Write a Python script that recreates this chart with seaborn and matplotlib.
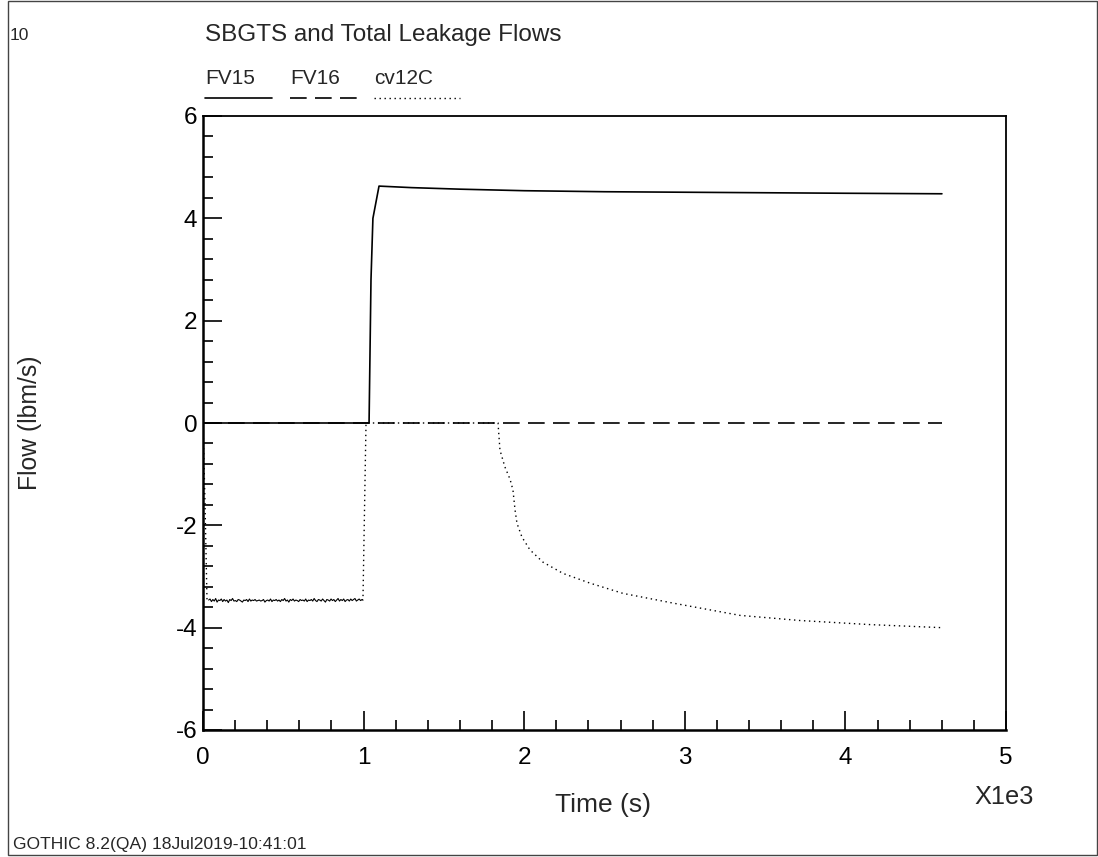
import numpy as np
import pandas as pd
import matplotlib
matplotlib.use("Agg")
import matplotlib.pyplot as plt
from matplotlib.lines import Line2D
from matplotlib.patches import Rectangle
from matplotlib.ticker import MultipleLocator, FuncFormatter
import seaborn as sns

# ---------------- data ----------------
title = "SBGTS and Total Leakage Flows"
series_names = ["FV15", "FV16", "cv12C"]

fv15_t = [0, 1034, 1046, 1058, 1096, 1300, 1600, 2000, 2500, 3000, 3500, 4000, 4601]
fv15_v = [0.0, 0.0, 2.8, 4.0, 4.63, 4.60, 4.57, 4.54, 4.52, 4.51, 4.50, 4.49, 4.48]

fv16_t = [0, 4601]
fv16_v = [0.0, 0.0]

cv12c_start_t = [0, 12, 25]
cv12c_start_v = [0.0, -1.5, -3.47]
cv12c_noise_v = [-3.46, -3.44, -3.49, -3.45, -3.48, -3.43, -3.50, -3.46, -3.47, -3.44,
                 -3.49, -3.45, -3.48, -3.46, -3.51, -3.45, -3.47, -3.43, -3.48, -3.47,
                 -3.49, -3.45, -3.46, -3.48, -3.50, -3.46, -3.47, -3.45, -3.49, -3.44,
                 -3.48, -3.46, -3.47, -3.45, -3.48, -3.47, -3.46, -3.48, -3.47, -3.45,
                 -3.50, -3.47, -3.46, -3.48, -3.44, -3.49, -3.46, -3.47, -3.45, -3.48,
                 -3.46, -3.49, -3.45, -3.47, -3.43, -3.48, -3.46, -3.50, -3.45, -3.47,
                 -3.44, -3.48, -3.46, -3.47, -3.49, -3.45, -3.47, -3.46, -3.48, -3.44,
                 -3.49, -3.46, -3.47, -3.45, -3.48, -3.43, -3.47, -3.49, -3.45, -3.46,
                 -3.48, -3.44, -3.47, -3.50, -3.45, -3.46, -3.48, -3.44, -3.47, -3.45,
                 -3.49, -3.46, -3.43, -3.48, -3.45, -3.47, -3.44, -3.49, -3.46, -3.45,
                 -3.48, -3.44, -3.47, -3.45, -3.43, -3.48, -3.46, -3.44, -3.47, -3.45]
cv12c_end_t = [996, 1015, 1837, 1849, 1880, 1912, 1930, 1943, 1955, 1986, 2036, 2117,
               2242, 2410, 2615, 2927, 3344, 3717, 4153, 4601]
cv12c_end_v = [-3.46, 0.0, 0.0, -0.53, -0.86, -1.10, -1.31, -1.70, -1.96, -2.23, -2.48,
               -2.72, -2.94, -3.13, -3.33, -3.52, -3.76, -3.86, -3.94, -4.00]

xticks = [0, 1000, 2000, 3000, 4000, 5000]
yticks = [-6, -4, -2, 0, 2, 4, 6]

# ---------------- build ----------------
noise_t = np.linspace(35, 990, len(cv12c_noise_v))

sns.set_theme(style="ticks")
plt.rcParams["font.family"] = ["Liberation Sans", "DejaVu Sans"]

W, H = 1098, 857
fig = plt.figure(figsize=(W / 100, H / 100), dpi=100)
ax = fig.add_axes([203 / W, 1 - 730 / H, (1006 - 203) / W, (730 - 116) / H])

df15 = pd.DataFrame({"t": fv15_t, "v": fv15_v})
df16 = pd.DataFrame({"t": fv16_t, "v": fv16_v})
dfc_a = pd.DataFrame({"t": cv12c_start_t + [noise_t[0]],
                      "v": cv12c_start_v + [cv12c_noise_v[0]]})
dfc_n = pd.DataFrame({"t": noise_t, "v": cv12c_noise_v})
dfc_b = pd.DataFrame({"t": [noise_t[-1]] + cv12c_end_t,
                      "v": [cv12c_noise_v[-1]] + cv12c_end_v})

sns.lineplot(data=df15, x="t", y="v", ax=ax, color="black", lw=1.2,
             estimator=None, sort=False)
sns.lineplot(data=df16, x="t", y="v", ax=ax, color="black", lw=1.2,
             estimator=None, sort=False)
ax.lines[-1].set_dashes([10, 5])
for d in (dfc_a, dfc_b):
    sns.lineplot(data=d, x="t", y="v", ax=ax, color="black", lw=1.0,
                 estimator=None, sort=False)
    ax.lines[-1].set_dashes([1, 2.6])
sns.lineplot(data=dfc_n, x="t", y="v", ax=ax, color="black", lw=0.8,
             estimator=None, sort=False)

ax.set_xlim(0, 5000)
ax.set_ylim(-6, 6)
ax.set_xticks(xticks)
ax.set_yticks(yticks)
ax.xaxis.set_minor_locator(MultipleLocator(200))
ax.yaxis.set_minor_locator(MultipleLocator(0.4))
ax.xaxis.set_major_formatter(FuncFormatter(lambda v, p: f"{v/1000:g}"))
ax.yaxis.set_major_formatter(FuncFormatter(lambda v, p: f"{v:g}"))
ax.tick_params(which="both", direction="in", top=False, right=False, colors="black",
               labelsize=17.5)
ax.tick_params(which="major", length=14, width=1.2)
ax.tick_params(which="minor", length=7, width=1.2)
ax.tick_params(axis="x", which="major", pad=12)
ax.tick_params(axis="y", which="major", pad=4)
ax.set_xlabel("")
ax.set_ylabel("")
for s in ["left", "bottom"]:
    ax.spines[s].set_linewidth(1.8)
    ax.spines[s].set_color("black")
for s in ["top", "right"]:
    ax.spines[s].set_linewidth(1.3)
    ax.spines[s].set_color("black")

# labels & texts
fig.text(30 / W, 1 - 423 / H, "Flow (lbm/s)", rotation=90, ha="center", va="center",
         fontsize=17.8)
fig.text(603 / W, 1 - 805 / H, "Time (s)", ha="center", va="center", fontsize=19)
fig.text(1004 / W, 1 - 797 / H, "X1e3", ha="center", va="center", fontsize=18.3)
fig.text(10 / W, 1 - 35 / H, "10", ha="left", va="center", fontsize=12.5)
fig.text(205 / W, 1 - 35 / H, title, ha="left", va="center", fontsize=17.5)
fig.text(13 / W, 1 - 845 / H, "GOTHIC 8.2(QA) 18Jul2019-10:41:01", ha="left",
         va="center", fontsize=12.6)

# legend (label above sample line)
leg = [("FV15", 205, 272, None, 1.2), ("FV16", 290, 357, [10, 5], 1.2),
       ("cv12C", 374, 460, [1, 2.6], 1.0)]
for name, x0, x1, dash, lw in leg:
    fig.text(x0 / W, 1 - 78 / H, name, ha="left", va="center", fontsize=15)
    ln = Line2D([x0 / W, x1 / W], [1 - 98 / H, 1 - 98 / H], transform=fig.transFigure,
                color="black", lw=lw)
    if dash is not None:
        ln.set_dashes(dash)
    fig.add_artist(ln)

# outer frame
fig.add_artist(Rectangle((8 / W, 2 / H), (1097 - 8) / W, (855 - 1) / H,
                         transform=fig.transFigure, fill=False, edgecolor="#444444",
                         lw=1.0))

fig.savefig("out.png", dpi=100)
